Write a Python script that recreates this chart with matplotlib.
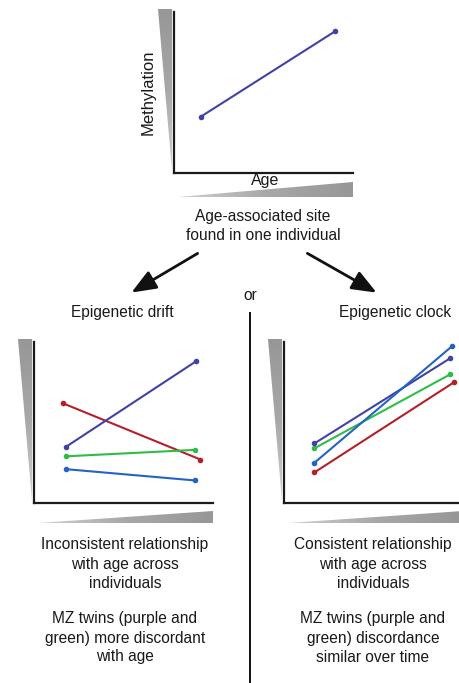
import numpy as np
import matplotlib
matplotlib.use('Agg')
import matplotlib.pyplot as plt
from matplotlib.patches import Polygon, FancyArrowPatch
from matplotlib.colors import LinearSegmentedColormap

plt.rcParams['font.family'] = ['Liberation Sans', 'DejaVu Sans']

W, H = 459, 683

# data (arbitrary units, 0-10 on both axes)
ages = [1.5, 9.0]
top_line = [3.5, 8.8]

drift_x = {'purple': [1.8, 9.05], 'red': [1.6, 9.3], 'green': [1.8, 9.0], 'blue': [1.8, 9.0]}
drift_y = {'purple': [3.5, 8.8], 'red': [6.2, 2.7], 'green': [2.9, 3.3], 'blue': [2.1, 1.4]}

clock_x = {'purple': [1.7, 9.3], 'green': [1.7, 9.3], 'blue': [1.7, 9.4], 'red': [1.7, 9.5]}
clock_y = {'purple': [3.7, 9.0], 'green': [3.4, 8.0], 'blue': [2.5, 9.75], 'red': [1.9, 7.5]}

colors = {'purple': '#4242a6', 'red': '#b3202c', 'green': '#2fbd48', 'blue': '#2463c4'}

FS = 11.2
TXT = '#1a1a1a'
wedge_cmap = LinearSegmentedColormap.from_list('wedge', ['#d0d0d0', '#a8a8a8', '#979797'])

fig = plt.figure(figsize=(W / 100, H / 100), dpi=100)
bg = fig.add_axes([0, 0, 1, 1])
bg.set_xlim(0, W)
bg.set_ylim(H, 0)
bg.axis('off')


def panel(left, top, width=179, height=161):
    ax = fig.add_axes([left / W, 1 - (top + height) / H, width / W, height / H])
    ax.set_xlim(0, 10)
    ax.set_ylim(0, 10)
    for s in ['top', 'right']:
        ax.spines[s].set_visible(False)
    for s in ['left', 'bottom']:
        ax.spines[s].set_linewidth(1.6)
        ax.spines[s].set_color('#1a1a1a')
    ax.set_xticks([])
    ax.set_yticks([])
    ax.patch.set_alpha(0)
    return ax


def grad_patch(verts, horizontal):
    # gray wedge, a bit lighter toward its point
    poly = Polygon(verts, closed=True, fc='none', ec='none')
    bg.add_patch(poly)
    xs = [v[0] for v in verts]
    ys = [v[1] for v in verts]
    if horizontal:
        g = np.linspace(0, 1, 64).reshape(1, -1)
    else:
        g = np.linspace(1, 0, 64).reshape(-1, 1)
    im = bg.imshow(g, cmap=wedge_cmap, vmin=0, vmax=1, aspect='auto',
                   extent=[min(xs), max(xs), max(ys), min(ys)], interpolation='bilinear')
    im.set_clip_path(poly)
    bg.set_xlim(0, W)
    bg.set_ylim(H, 0)


def wedges(x0, y0, x1, y1, gap=9, thick=15):
    grad_patch([(x0 - 16, y0 - 3), (x0 - 2, y0 - 3), (x0 - 2, y1 - 2)], False)
    grad_patch([(x0 + 4, y1 + gap + thick), (x1, y1 + gap), (x1, y1 + gap + thick)], True)


# top panel
ax0 = panel(174, 12)
ax0.plot(ages, top_line, color=colors['purple'], lw=1.5, marker='o', ms=3)
wedges(174, 12, 353, 173)
bg.text(148, 92, 'Methylation', rotation=90, ha='center', va='center', fontsize=12, color=TXT)
bg.text(265, 181, 'Age', ha='center', va='center', fontsize=11.5, color=TXT)
bg.text(263, 216, 'Age-associated site', ha='center', va='center', fontsize=FS, color=TXT)
bg.text(263, 235, 'found in one individual', ha='center', va='center', fontsize=FS, color=TXT)

# arrows
for (a, b) in [((200, 252), (129, 294)), ((305, 252), (379, 294))]:
    bg.add_patch(FancyArrowPatch(a, b, arrowstyle='-|>,head_length=15,head_width=6',
                                 mutation_scale=1, lw=2.0, color='#111111'))
bg.text(250, 296, 'or', ha='center', va='center', fontsize=FS, color=TXT)
bg.plot([250, 250], [313, H], color='#111111', lw=1.4)

bg.text(122, 313, 'Epigenetic drift', ha='center', va='center', fontsize=FS, color=TXT)
bg.text(395, 313, 'Epigenetic clock', ha='center', va='center', fontsize=FS, color=TXT)

# drift panel
ax1 = panel(34, 342)
for k in ['red', 'purple', 'green', 'blue']:
    ax1.plot(drift_x[k], drift_y[k], color=colors[k], lw=1.5, marker='o', ms=3)
wedges(34, 342, 213, 503, gap=8, thick=12)

# clock panel
ax2 = panel(284, 342)
for k in ['red', 'green', 'purple', 'blue']:
    ax2.plot(clock_x[k], clock_y[k], color=colors[k], lw=1.5, marker='o', ms=3, clip_on=False)
wedges(284, 342, 463, 503, gap=8, thick=12)

left_txt = ['Inconsistent relationship', 'with age across', 'individuals', '',
            'MZ twins (purple and', 'green) more discordant', 'with age']
right_txt = ['Consistent relationship', 'with age across', 'individuals', '',
             'MZ twins (purple and', 'green) discordance', 'similar over time']
rows = [545, 564, 583, 600, 619, 638, 657]
for t, y in zip(left_txt, rows):
    bg.text(125, y, t, ha='center', va='center', fontsize=FS, color=TXT)
for t, y in zip(right_txt, rows):
    bg.text(373, y, t, ha='center', va='center', fontsize=FS, color=TXT)

fig.savefig('out.png', dpi=100)
